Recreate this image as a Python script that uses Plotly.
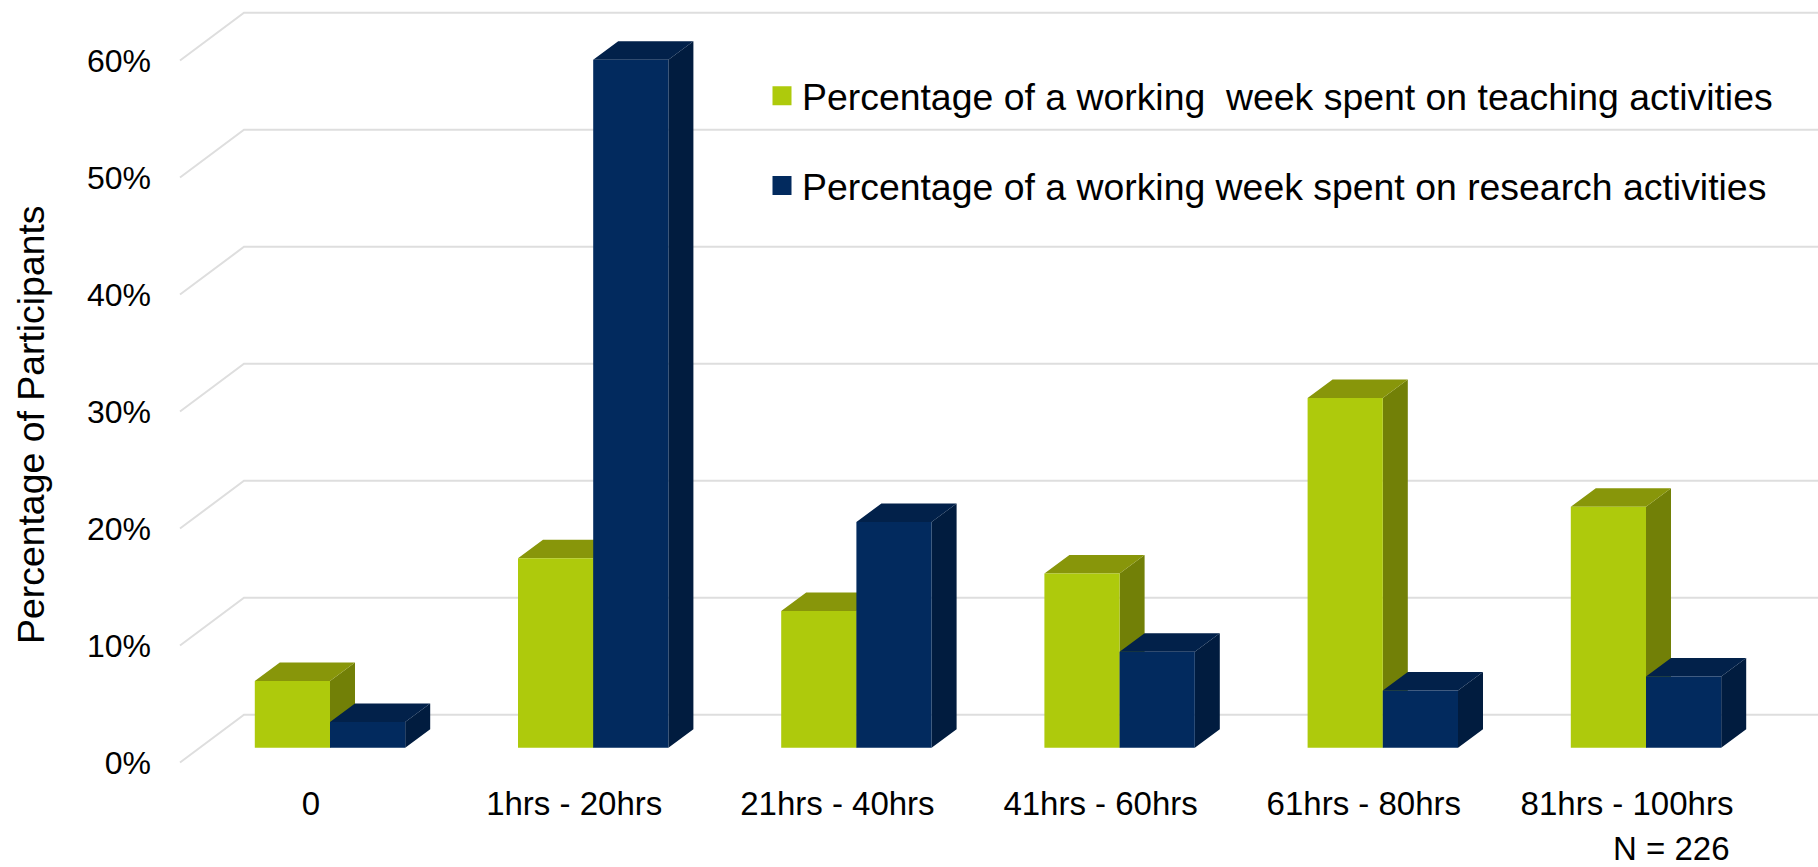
import plotly.graph_objects as go

categories = ["0", "1hrs - 20hrs", "21hrs - 40hrs", "41hrs - 60hrs", "61hrs - 80hrs", "81hrs - 100hrs"]
teaching = [5.7, 16.2, 11.7, 14.9, 29.9, 20.6]
research = [2.2, 58.8, 19.3, 8.2, 4.9, 6.1]
y_ticks = [0, 10, 20, 30, 40, 50, 60]
y_tick_labels = ["0%", "10%", "20%", "30%", "40%", "50%", "60%"]
teaching_name = "Percentage of a working\u00a0 week spent on teaching activities"
research_name = "Percentage of a working week spent on research activities"

FONT = "Liberation Sans, Arial, sans-serif"
GREEN, GREEN_SIDE, GREEN_TOP = "#AECA0C", "#728007", "#88960A"
BLUE, BLUE_SIDE, BLUE_TOP = "#022A5E", "#011C3F", "#02214A"
GRID = "#DEDEDE"

W, H = 1818, 867
LEFT, BOTTOM = 152, 780.5        # plot area edges in page pixels
CAT0_PX, CAT_STEP = 330, 263.2   # first category centre, spacing
Y0_PX, Y_STEP = 762.5, 11.7      # 0% on the front wall, pixels per percent

BAR_W = 75.2 / CAT_STEP
BAR_LIFT = 14.7 / Y_STEP         # bars stand this far behind the front edge of the floor
BAR_DX, BAR_DY = 25 / CAT_STEP, 18.5 / Y_STEP
WALL_DX, WALL_DY = 64 / CAT_STEP, 47.7 / Y_STEP
WALL_X0 = (180 - CAT0_PX) / CAT_STEP
X_MAX = (W - CAT0_PX) / CAT_STEP
LABEL_SHIFT = 19 / CAT_STEP


def depth_faces(values, x_left):
    side_x, side_y, top_x, top_y = [], [], [], []
    for i, v in enumerate(values):
        x0 = i + x_left
        x1 = x0 + BAR_W
        t = v + BAR_LIFT
        side_x += [x1, x1 + BAR_DX, x1 + BAR_DX, x1, x1, None]
        side_y += [BAR_LIFT, BAR_LIFT + BAR_DY, t + BAR_DY, t, BAR_LIFT, None]
        top_x += [x0, x0 + BAR_DX, x1 + BAR_DX, x1, x0, None]
        top_y += [t, t + BAR_DY, t + BAR_DY, t, t, None]
    return side_x, side_y, top_x, top_y


def poly(x, y, color, z):
    return go.Scatter(x=x, y=y, mode="lines", fill="toself", fillcolor=color,
                      line=dict(width=0, color=color), showlegend=False,
                      hoverinfo="skip", zorder=z)


fig = go.Figure()

grid_x, grid_y = [], []
for g in y_ticks:
    grid_x += [WALL_X0, WALL_X0 + WALL_DX, X_MAX, None]
    grid_y += [g, g + WALL_DY, g + WALL_DY, None]
fig.add_trace(go.Scatter(x=grid_x, y=grid_y, mode="lines", line=dict(color=GRID, width=2),
                         showlegend=False, hoverinfo="skip", zorder=0))

xs = list(range(len(categories)))

sx, sy, tx, ty = depth_faces(teaching, -BAR_W)
fig.add_trace(poly(sx, sy, GREEN_SIDE, 1))
fig.add_trace(poly(tx, ty, GREEN_TOP, 1))
fig.add_trace(go.Bar(x=xs, y=teaching, base=BAR_LIFT, width=BAR_W, offset=-BAR_W,
                     marker=dict(color=GREEN, line=dict(width=0)), showlegend=False, zorder=2))

sx, sy, tx, ty = depth_faces(research, 0)
fig.add_trace(poly(sx, sy, BLUE_SIDE, 3))
fig.add_trace(poly(tx, ty, BLUE_TOP, 3))
fig.add_trace(go.Bar(x=xs, y=research, base=BAR_LIFT, width=BAR_W, offset=0,
                     marker=dict(color=BLUE, line=dict(width=0)), showlegend=False, zorder=4))

# legend keys
for name, color, group in [(teaching_name, GREEN, "a"), (research_name, BLUE, "b")]:
    fig.add_trace(go.Scatter(x=[None], y=[None], mode="markers", name=name, legendgroup=group,
                             marker=dict(symbol="square", size=16, color=color,
                                         line=dict(width=3, color=color))))

fig.update_layout(
    width=W, height=H,
    margin=dict(l=0, r=0, t=0, b=0),
    autosize=False,
    plot_bgcolor="white", paper_bgcolor="white",
    barmode="overlay",
    font=dict(family=FONT, color="#000000", size=32),
    xaxis=dict(domain=[LEFT / W, 1],
               range=[(LEFT - CAT0_PX) / CAT_STEP, X_MAX],
               tickmode="array",
               tickvals=[x - LABEL_SHIFT for x in xs],
               ticktext=categories,
               showgrid=False, zeroline=False, showline=False, ticks="",
               tickfont=dict(size=33)),
    yaxis=dict(domain=[(H - BOTTOM) / H, 1],
               range=[(Y0_PX - BOTTOM) / Y_STEP, Y0_PX / Y_STEP],
               tickmode="array", tickvals=y_ticks, ticktext=y_tick_labels,
               showgrid=False, zeroline=False, showline=False, ticks="",
               tickfont=dict(size=32)),
    legend=dict(x=762 / W, y=1 - 65 / H, xanchor="left", yanchor="top",
                bgcolor="rgba(0,0,0,0)", font=dict(size=37.4),
                traceorder="grouped", tracegroupgap=38, itemclick=False, itemdoubleclick=False),
    annotations=[
        dict(text="Percentage of Participants", x=31 / W, y=1 - 425 / H, xref="paper", yref="paper",
             textangle=-90, showarrow=False, font=dict(size=37.4), xanchor="center", yanchor="middle"),
        dict(text="N = 226", x=1732 / W, y=1 - 848 / H, xref="paper", yref="paper",
             showarrow=False, font=dict(size=33), xanchor="right", yanchor="middle"),
    ],
)

fig.write_html("out.html", config={"displayModeBar": False},
               post_script="document.body.style.margin='0';document.body.style.overflow='hidden';")
